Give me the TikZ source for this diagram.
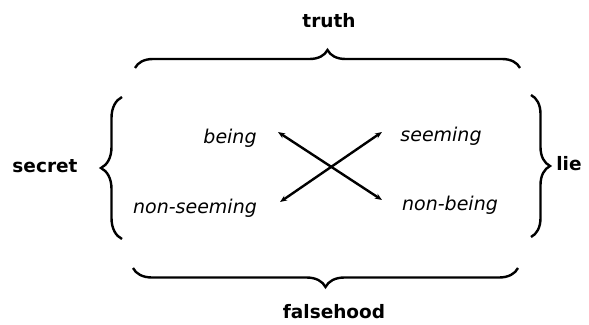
\documentclass[tikz,border=0pt]{standalone}
\usepackage{fontspec}
\setmainfont{DejaVu Sans}
\usetikzlibrary{decorations.pathreplacing,arrows.meta}
\begin{document}
\begin{tikzpicture}[x=1pt,y=-1pt,
  term/.style={font=\fontsize{19}{22}\selectfont\itshape, inner sep=0pt},
  outer/.style={font=\fontsize{18.5}{22}\selectfont\bfseries, inner sep=0pt},
  bracestyle/.style={line width=2.4pt, decorate, decoration={brace, amplitude=#1, aspect=0.5}},
  cross/.style={line width=2.4pt, {Stealth[length=7pt,width=5.5pt]}-{Stealth[length=7pt,width=5.5pt]}}]
\useasboundingbox (0,0) rectangle (589,324);
% labels
\node[outer] (truth) at (329,21) {truth};
\node[outer] (falsehood) at (334,312) {falsehood};
\node[outer] (secret) at (45,166) {secret};
\node[outer] (lie) at (569,164) {lie};
\node[term] (being) at (230,138) {being};
\node[term] (nonseeming) at (195,208) {non-seeming};
\node[term] (seeming) at (441,136) {seeming};
\node[term] (nonbeing) at (450,205) {non-being};
% braces
\coordinate (tl) at (135,68); \coordinate (tr) at (520,68);
\coordinate (bl) at (133,268); \coordinate (br) at (518,268);
\coordinate (lt) at (122,97); \coordinate (lb) at (122,239);
\coordinate (rt) at (531,95); \coordinate (rb) at (531,237);
\draw[bracestyle=18pt] (tl) -- (tr);
\draw[bracestyle=19pt] (br) -- (bl);
\draw[bracestyle=21pt] (lb) -- (lt);
\draw[bracestyle=19pt] (rt) -- (rb);
% crossing arrows
\coordinate (a1) at (278,132); \coordinate (a2) at (382,200);
\coordinate (b1) at (280,202); \coordinate (b2) at (382,132);
\draw[cross] (a1) -- (a2);
\draw[cross] (b1) -- (b2);
\end{tikzpicture}
\end{document}
